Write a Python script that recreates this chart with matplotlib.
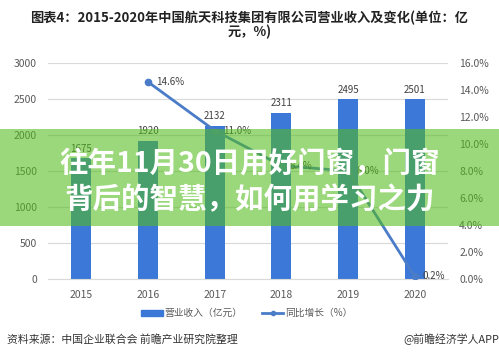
import matplotlib
matplotlib.use("Agg")
import matplotlib.pyplot as plt
from matplotlib.patches import Rectangle
from matplotlib.lines import Line2D
from matplotlib.patches import Patch

plt.rcParams['font.family'] = ['Noto Sans CJK SC', 'DejaVu Sans']

years = ['2015', '2016', '2017', '2018', '2019', '2020']
revenue = [1675, 1920, 2132, 2311, 2495, 2501]
growth_years = ['2016', '2017', '2018', '2019', '2020']
growth = [14.6, 11.0, 8.4, 8.0, 0.2]
left_ticks = [0, 500, 1000, 1500, 2000, 2500, 3000]
right_ticks = [0, 2, 4, 6, 8, 10, 12, 14, 16]

title = "图表4：2015-2020年中国航天科技集团有限公司营业收入及变化(单位：亿\n元，%)"
banner = "往年11月30日用好门窗，门窗\n背后的智慧，如何用学习之力"
source = "资料来源：中国企业联合会 前瞻产业研究院整理"
credit = "@前瞻经济学人APP"

bar_color = '#3B78D8'
line_color = '#4A7CC8'
tick_color = '#595959'

fig = plt.figure(figsize=(4.99, 3.57), dpi=100)
ax = fig.add_axes([0.096, 0.2185, 0.802, 0.605])
x = list(range(len(years)))
ax.bar(x, revenue, width=0.3, color=bar_color, zorder=2)
for xi, v in zip(x, revenue):
    ax.text(xi, v + 60, str(v), ha='center', va='bottom', fontsize=7, color='#404040')
ax.set_xlim(-0.5, len(years) - 0.5)
ax.set_ylim(0, 3000)
ax.set_yticks(left_ticks)
ax.set_xticks(x)
ax.set_xticklabels(years)
ax.grid(axis='y', color='#D9D9D9', linewidth=0.8, zorder=0)
for s in ['top', 'right', 'left']:
    ax.spines[s].set_visible(False)
ax.spines['bottom'].set_color('#D9D9D9')
ax.tick_params(axis='both', length=0, labelsize=7.5, colors=tick_color)
ax.tick_params(axis='x', pad=8)
ax.tick_params(axis='y', pad=8)

ax2 = ax.twinx()
gx = [years.index(y) for y in growth_years]
ax2.plot(gx, growth, color=line_color, linewidth=2, marker='o', markersize=4.5, zorder=3)
for xi, g in zip(gx, growth):
    ax2.text(xi + 0.12, g, f"{g:.1f}%", ha='left', va='center', fontsize=7, color='#404040')
ax2.set_ylim(0, 16)
ax2.set_yticks(right_ticks)
ax2.set_yticklabels([f"{t:.1f}%" for t in right_ticks])
for s in ['top', 'right', 'left', 'bottom']:
    ax2.spines[s].set_visible(False)
ax2.tick_params(axis='y', length=0, labelsize=7.5, colors=tick_color, pad=8)

fig.text(0.5, 0.93, title, ha='center', va='center', fontsize=9.5, fontweight='bold',
         color='#222222', linespacing=1.0)

handles = [Patch(color=bar_color),
           Line2D([0], [0], color=line_color, linewidth=2, marker='o', markersize=3)]
fig.legend(handles, ['营业收入（亿元）', '同比增长（%）'], loc='center',
           bbox_to_anchor=(0.495, 0.123), ncol=2, frameon=False, fontsize=7,
           handlelength=2.2, handleheight=0.6, columnspacing=2.0, labelcolor=tick_color,
           handletextpad=0.2)

fig.text(0.014, 0.05, source, ha='left', va='center', fontsize=7.8, color='#333333')
fig.text(1.0, 0.05, credit, ha='right', va='center', fontsize=7.8, color='#333333')

fig.add_artist(Rectangle((0, 0.367), 1, 0.272, transform=fig.transFigure,
                         facecolor='#52BC1C', alpha=0.58, edgecolor='none', zorder=10))
fig.text(0.5, 0.49, banner, ha='center', va='center', fontsize=20.5, fontweight='bold',
         color='white', linespacing=1.35, zorder=11)

fig.savefig('out.png', dpi=100)
